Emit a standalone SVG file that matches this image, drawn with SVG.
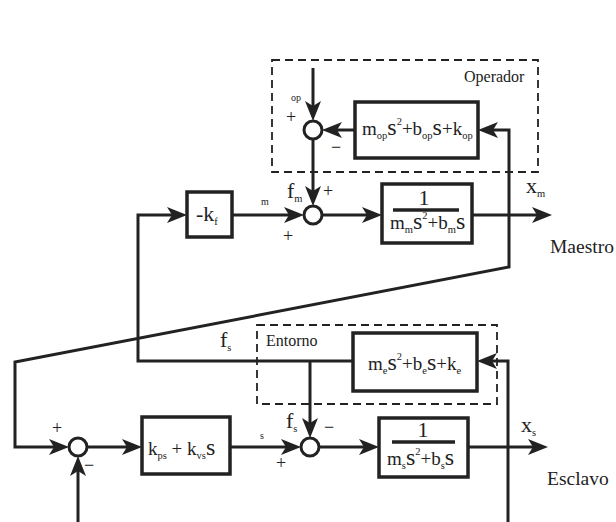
<svg xmlns="http://www.w3.org/2000/svg" width="616" height="522" viewBox="0 0 616 522">
<style>
.ln{fill:none;stroke:#222;stroke-width:3;}
.bx{fill:#fff;stroke:#222;stroke-width:3.5;}
.ds{fill:none;stroke:#222;stroke-width:1.8;stroke-dasharray:8,5;}
.sj{fill:#fff;stroke:#222;stroke-width:3;}
text{font-family:"Liberation Serif","Times New Roman",serif;fill:#222;}
.lbl{font-size:19px;}
.sub{font-size:10.5px;}
.S{font-size:24px;}
.sup{font-size:10.5px;}
.sm{font-size:10px;}
.sg{font-size:18px;}
.cap{font-size:16px;}
.big{font-size:19.5px;}
.lbl2{font-size:22px;}
</style>
<defs>
<marker id="ah" viewBox="-12 -8 20 16" refX="0" refY="0" markerWidth="20" markerHeight="16" markerUnits="userSpaceOnUse" orient="auto">
<path d="M8,0 L-12,-8 L-7,0 L-12,8 Z" fill="#222"/>
</marker>
</defs>
<rect width="616" height="522" fill="#fff"/>
<g id="groups">
<rect id="operador" class="ds" x="272" y="60" width="266" height="112"/>
<text class="cap" x="464" y="82">Operador</text>
<rect id="entorno" class="ds" x="257" y="325" width="240" height="79"/>
<text class="cap" x="266" y="346">Entorno</text>
</g>
<g id="connectors">
<path class="ln" d="M313,68 V113" marker-end="url(#ah)"/>
<path class="ln" d="M355,130 H330" marker-end="url(#ah)"/>
<path class="ln" d="M509,215 V130 H486" marker-end="url(#ah)"/>
<path class="ln" d="M509,215 V267 L15,362 V447 H61" marker-end="url(#ah)"/>
<path class="ln" d="M313,139 V198" marker-end="url(#ah)"/>
<path class="ln" d="M232,215 H296" marker-end="url(#ah)"/>
<path class="ln" d="M322,215 H374" marker-end="url(#ah)"/>
<path class="ln" d="M472,215 H544" marker-end="url(#ah)"/>
<path class="ln" d="M353,361 H138 V215 H179" marker-end="url(#ah)"/>
<path class="ln" d="M310,361 V430" marker-end="url(#ah)"/>
<path class="ln" d="M78,522 V464" marker-end="url(#ah)"/>
<path class="ln" d="M87,447 H134" marker-end="url(#ah)"/>
<path class="ln" d="M230,447 H293" marker-end="url(#ah)"/>
<path class="ln" d="M319,447 H371" marker-end="url(#ah)"/>
<path class="ln" d="M468,447 H540" marker-end="url(#ah)"/>
<path class="ln" d="M508,522 V361 H485" marker-end="url(#ah)"/>
</g>
<g id="sum_op">
<circle class="sj" cx="313" cy="130" r="9"/>
<text class="sm" x="291" y="101">op</text>
<text class="sg" x="286" y="123">+</text>
<text class="sg" x="331" y="153">−</text>
</g>
<g id="box_op">
<rect class="bx" x="355" y="102" width="123" height="56"/>
<text class="lbl" x="362" y="135">m<tspan class="sub" dy="4">op</tspan><tspan class="S" dy="-4">s</tspan><tspan class="sup" dy="-10">2</tspan><tspan dy="10">+b</tspan><tspan class="sub" dy="4">op</tspan><tspan class="S" dy="-4">s</tspan><tspan>+k</tspan><tspan class="sub" dy="4">op</tspan></text>
</g>
<g id="box_kf">
<rect class="bx" x="187" y="192" width="45" height="45"/>
<text class="lbl2" x="196" y="221">-k<tspan class="sub" dy="4">f</tspan></text>
</g>
<g id="sum_m">
<circle class="sj" cx="313" cy="215" r="9"/>
<text class="lbl2" x="287" y="198">f<tspan class="sub" dy="4">m</tspan></text>
<text class="sg" x="323" y="197">+</text>
<text class="sm" x="261" y="205">m</text>
<text class="sg" x="283" y="242">+</text>
</g>
<g id="box_master">
<rect class="bx" x="382" y="184" width="90" height="59"/>
<text class="lbl2" x="424" y="205" text-anchor="middle">1</text>
<line x1="393" y1="210" x2="459" y2="210" stroke="#222" stroke-width="3.5"/>
<text class="lbl" x="390" y="229">m<tspan class="sub" dy="4">m</tspan><tspan class="S" dy="-4">s</tspan><tspan class="sup" dy="-10">2</tspan><tspan dy="10">+b</tspan><tspan class="sub" dy="4">m</tspan><tspan class="S" dy="-4">s</tspan></text>
<text class="lbl2" x="526" y="193">x<tspan class="sub" dy="4">m</tspan></text>
<text class="big" x="550" y="253">Maestro</text>
</g>
<g id="box_env">
<rect class="bx" x="353" y="333" width="124" height="58"/>
<text class="lbl" x="368" y="370">m<tspan class="sub" dy="4">e</tspan><tspan class="S" dy="-4">s</tspan><tspan class="sup" dy="-10">2</tspan><tspan dy="10">+b</tspan><tspan class="sub" dy="4">e</tspan><tspan class="S" dy="-4">s</tspan><tspan>+k</tspan><tspan class="sub" dy="4">e</tspan></text>
<text class="lbl2" x="220" y="347">f<tspan class="sub" dy="4">s</tspan></text>
</g>
<g id="sum_a">
<circle class="sj" cx="78" cy="447" r="9"/>
<text class="sg" x="52" y="434">+</text>
<text class="sg" x="84" y="471">−</text>
</g>
<g id="box_k">
<rect class="bx" x="142" y="417" width="88" height="57"/>
<text class="lbl" x="148" y="455">k<tspan class="sub" dy="4">ps</tspan><tspan dy="-4"> + k</tspan><tspan class="sub" dy="4">vs</tspan><tspan class="S" dy="-4">s</tspan></text>
</g>
<g id="sum_s">
<circle class="sj" cx="310" cy="447" r="9"/>
<text class="lbl2" x="286" y="428">f<tspan class="sub" dy="4">s</tspan></text>
<text class="sg" x="324" y="433">−</text>
<text class="sm" x="260" y="439">s</text>
<text class="sg" x="276" y="469">+</text>
</g>
<g id="box_slave">
<rect class="bx" x="379" y="418" width="89" height="59"/>
<text class="lbl2" x="423" y="437" text-anchor="middle">1</text>
<line x1="392" y1="442" x2="455" y2="442" stroke="#222" stroke-width="3.5"/>
<text class="lbl" x="387" y="465">m<tspan class="sub" dy="4">s</tspan><tspan class="S" dy="-4">s</tspan><tspan class="sup" dy="-10">2</tspan><tspan dy="10">+b</tspan><tspan class="sub" dy="4">s</tspan><tspan class="S" dy="-4">s</tspan></text>
<text class="lbl2" x="521" y="432">x<tspan class="sub" dy="4">s</tspan></text>
<text class="big" x="547" y="485">Esclavo</text>
</g>
</svg>
